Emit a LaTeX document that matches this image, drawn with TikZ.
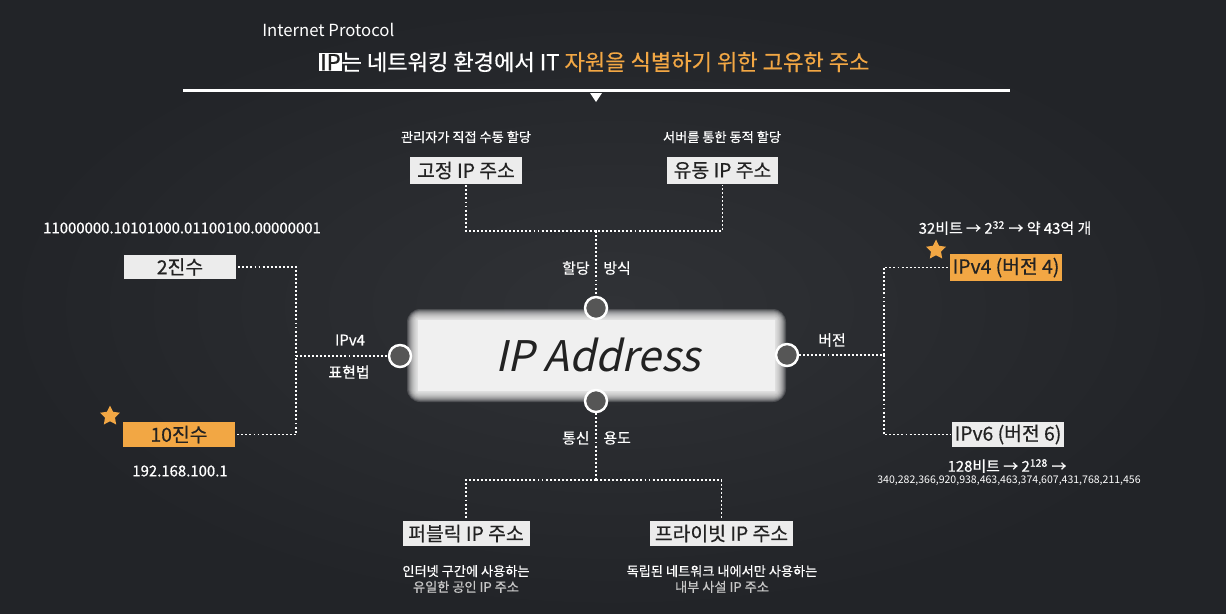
\documentclass[tikz,border=0pt]{standalone}
\usepackage{fontspec}
\setmainfont{Noto Sans CJK KR}
\newfontfamily\medf[FakeBold=0.5]{Noto Sans CJK KR}
\newfontfamily\slantf[FakeSlant=0.22]{Noto Sans CJK KR}
\usetikzlibrary{shapes.geometric}
\definecolor{bgc}{HTML}{222428}
\definecolor{bginner}{HTML}{303236}
\definecolor{orng}{HTML}{F2A744}
\definecolor{boxc}{HTML}{ECECEC}
\definecolor{txtd}{HTML}{222222}
\definecolor{circc}{HTML}{565656}
\definecolor{greyt}{HTML}{C8C8C8}
\def\pu{0.02cm}
\tikzset{
 lbox/.style={fill=boxc, text=txtd, inner sep=0pt, font=\medf\fontsize{11}{12}\selectfont},
 obox/.style={lbox, fill=orng},
 hub/.style={circle, fill=circc, draw=white, line width=1.4pt, minimum size=22*\pu, inner sep=0pt},
 dotline/.style={draw=white, line width=1pt, dash pattern=on 1.1pt off 1.2pt},
 small/.style={text=white, font=\medf\fontsize{7.5}{9}\selectfont, inner sep=0pt},
 lbl/.style={text=white, font=\medf\fontsize{8.5}{10}\selectfont, inner sep=0pt},
 starn/.style={star, star points=5, star point ratio=2.0, fill=orng, minimum size=21*\pu, inner sep=0pt},
}
\begin{document}
\begin{tikzpicture}[x=\pu,y=-\pu]
\useasboundingbox (0,0) rectangle (1226,613);
\fill[bgc] (0,0) rectangle (1226,613);
\shade[inner color=bginner, outer color=bgc] (0,0) rectangle (1226,613);
% header
\node[text=white, font=\fontsize{9.5}{11}\selectfont, anchor=west, inner sep=0pt] (iptxt) at (262,30) {Internet Protocol};
\node[font=\medf\fontsize{12.6}{14}\selectfont, text=white, anchor=west, inner sep=0pt] (title) at (319,62) {{\setlength\fboxsep{0.5pt}\colorbox{white}{\textcolor{txtd}{IP}}}는 네트워킹 환경에서 IT \textcolor{orng}{자원을 식별하기 위한 고유한 주소}};
\draw[white, line width=1.7pt] (183,90) -- (1010,90);
\fill[white] (590,93) -- (602,93) -- (596,102) -- cycle;
% glow centre
\foreach \i in {11,10,...,1}
  \fill[white, opacity=0.16, rounded corners=\i*1.2*\pu] (418-\i,320-\i) rectangle (775+\i,391+\i);
\fill[white!94!black] (418,320) rectangle (775,391);
\node[font=\slantf\fontsize{24}{28}\selectfont, text=txtd, inner sep=0pt] (ip) at (598,355) {IP Address};
% hubs
\node[hub] (ctop) at (596,308) {};
\node[hub] (cleft) at (400,356) {};
\node[hub] (cright) at (787,355) {};
\node[hub] (cbot) at (596,401) {};
% boxes
\node[lbox, minimum width=112*\pu, minimum height=27*\pu] (fixed) at (466,170.5) {고정 IP 주소};
\node[lbox, minimum width=111*\pu, minimum height=27*\pu] (dyn) at (722.5,170.5) {유동 IP 주소};
\node[lbox, minimum width=112*\pu, minimum height=24*\pu] (bin) at (180,267) {2진수};
\node[obox, minimum width=112*\pu, minimum height=25*\pu] (dec) at (179,434.5) {10진수};
\node[obox, minimum width=112*\pu, minimum height=27*\pu] (v4) at (1006,267.5) {IPv4 (버전 4)};
\node[lbox, minimum width=112*\pu, minimum height=25*\pu] (v6) at (1008,434.5) {IPv6 (버전 6)};
\node[lbox, minimum width=127*\pu, minimum height=25*\pu] (pub) at (466,533.5) {퍼블릭 IP 주소};
\node[lbox, minimum width=143*\pu, minimum height=25*\pu] (priv) at (721.5,533.5) {프라이빗 IP 주소};
% connectors
\coordinate (tj) at (596,231);
\draw[dotline, shorten <=1*\pu, shorten >=1*\pu] (fixed.south) |- (tj) -| (dyn.south);
\draw[dotline] (tj) -- (ctop);
\coordinate (lj) at (296,356);
\draw[dotline, shorten <=2*\pu] (bin.east) -| (lj);
\draw[dotline, shorten <=2*\pu] (dec.east) -| (lj);
\draw[dotline] (lj) -- (cleft);
\coordinate (rj) at (884,355);
\draw[dotline] (cright) -- (rj);
\draw[dotline] (rj) |- (v4.west);
\draw[dotline, shorten >=1*\pu] (rj) |- (v6.west);
\coordinate (bj) at (596,480);
\draw[dotline] (cbot) -- (bj);
\draw[dotline, shorten >=3*\pu] (bj) -| (pub.north);
\draw[dotline, shorten >=3*\pu] (bj) -| (priv.north);
% labels
\node[lbl, anchor=east] (l1) at (590,268) {할당};
\node[lbl, anchor=west] (l2) at (603,268) {방식};
\node[lbl] (l3) at (350,340) {IPv4};
\node[lbl] (l4) at (349,372) {표현법};
\node[lbl] (l5) at (832,340) {버전};
\node[lbl, anchor=east] (l6) at (590,438) {통신};
\node[lbl, anchor=west] (l7) at (603,438) {용도};
% notes
\node[small] (d1) at (466,137) {관리자가 직접 수동 할당};
\node[small] (d2) at (722,137) {서버를 통한 동적 할당};
\node[lbl] (bintxt) at (182,228) {11000000.10101000.01100100.00000001};
\node[lbl] (dectxt) at (180,471) {192.168.100.1};
\node[lbl] (v4txt) at (1005,228) {32비트 → 2\textsuperscript{32} → 약 43억 개};
\node[lbl] (v6txt) at (1007,466) {128비트 → 2\textsuperscript{128} →};
\node[text=white, font=\fontsize{6}{7}\selectfont, inner sep=0pt] (bignum) at (1009,481) {340,282,366,920,938,463,463,374,607,431,768,211,456};
\node[small, align=center] (pd) at (466,579) {인터넷 구간에 사용하는\\\textcolor{greyt}{유일한 공인 IP 주소}};
\node[small, align=center] (vd) at (722,579) {독립된 네트워크 내에서만 사용하는\\\textcolor{greyt}{내부 사설 IP 주소}};
% stars
\node[starn] (s1) at (110,416) {};
\node[starn] (s2) at (936,250) {};
\end{tikzpicture}
\end{document}
